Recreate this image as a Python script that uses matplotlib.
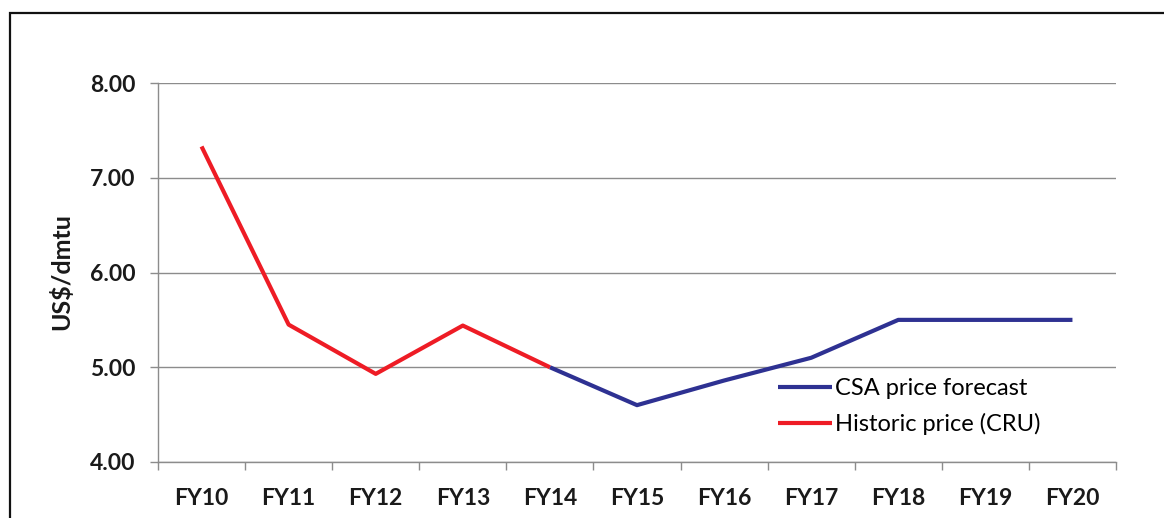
import matplotlib
matplotlib.use("Agg")
import matplotlib.pyplot as plt
from matplotlib.patches import Rectangle

categories = ["FY10", "FY11", "FY12", "FY13", "FY14", "FY15", "FY16", "FY17", "FY18", "FY19", "FY20"]
historic = [7.33, 5.45, 4.93, 5.44, 5.00]           # FY10-FY14
forecast = [5.00, 4.60, 4.86, 5.10, 5.50, 5.50, 5.50]  # FY14-FY20
yticks = [4.00, 5.00, 6.00, 7.00, 8.00]

W, H = 1164, 518
fig = plt.figure(figsize=(W / 100, H / 100), dpi=100)
fig.patch.set_facecolor("white")

# outer frame
fig.patches.append(Rectangle((10 / W, -0.05), 1.2, 1 - 13 / H + 0.05,
                             transform=fig.transFigure, fill=False,
                             edgecolor="#111111", linewidth=1.6))

ax = fig.add_axes([158 / W, 1 - 462 / H, (1116 - 158) / W, (462 - 83) / H])
ax.set_facecolor("none")

x_hist = list(range(0, len(historic)))
x_fc = list(range(len(historic) - 1, len(historic) - 1 + len(forecast)))

ax.plot(x_fc, forecast, color="#2e3192", linewidth=3.0, label="CSA price forecast",
        solid_capstyle="butt", zorder=3)
ax.plot(x_hist, historic, color="#ee1c25", linewidth=3.0, label="Historic price (CRU)",
        solid_capstyle="butt", zorder=4)

ax.set_xlim(-0.5, len(categories) - 0.5)
ax.set_ylim(4.0, 8.0)
ax.set_yticks(yticks)
ax.set_yticklabels([f"{v:.2f}" for v in yticks])
ax.set_xticks(range(len(categories)))
ax.set_xticklabels(categories)
ax.set_xticks([i - 0.5 for i in range(len(categories) + 1)], minor=True)

ax.yaxis.grid(True, color="#8c8c8c", linewidth=1.0)
ax.set_axisbelow(True)
for s in ["top", "right"]:
    ax.spines[s].set_visible(False)
ax.spines["left"].set_color("#8c8c8c")
ax.spines["bottom"].set_color("#8c8c8c")
ax.spines["left"].set_linewidth(1.0)
ax.spines["bottom"].set_linewidth(1.0)

for lab in ax.get_xticklabels() + ax.get_yticklabels():
    lab.set_fontfamily("Lato")
    lab.set_fontweight("bold")
    lab.set_fontsize(16.5)
    lab.set_color("#1a1a1a")

ax.tick_params(axis="x", which="major", length=0, pad=19)
ax.tick_params(axis="x", which="minor", length=6, color="#8c8c8c", width=1.0)
ax.tick_params(axis="y", length=6, color="#8c8c8c", width=1.0, pad=10)

ax.set_ylabel("US$/dmtu", fontfamily="Lato", fontweight="bold", fontsize=18, color="#1a1a1a")
ax.yaxis.set_label_coords(-0.088, 0.503)

leg = ax.legend(loc="upper left", bbox_to_anchor=(0.647, 0.222), frameon=False,
                prop=dict(family="Lato", size=17), handlelength=2.3, handletextpad=0.12,
                borderpad=0, labelspacing=0.6, borderaxespad=0)

fig.savefig("out.png", dpi=100, facecolor="white")
